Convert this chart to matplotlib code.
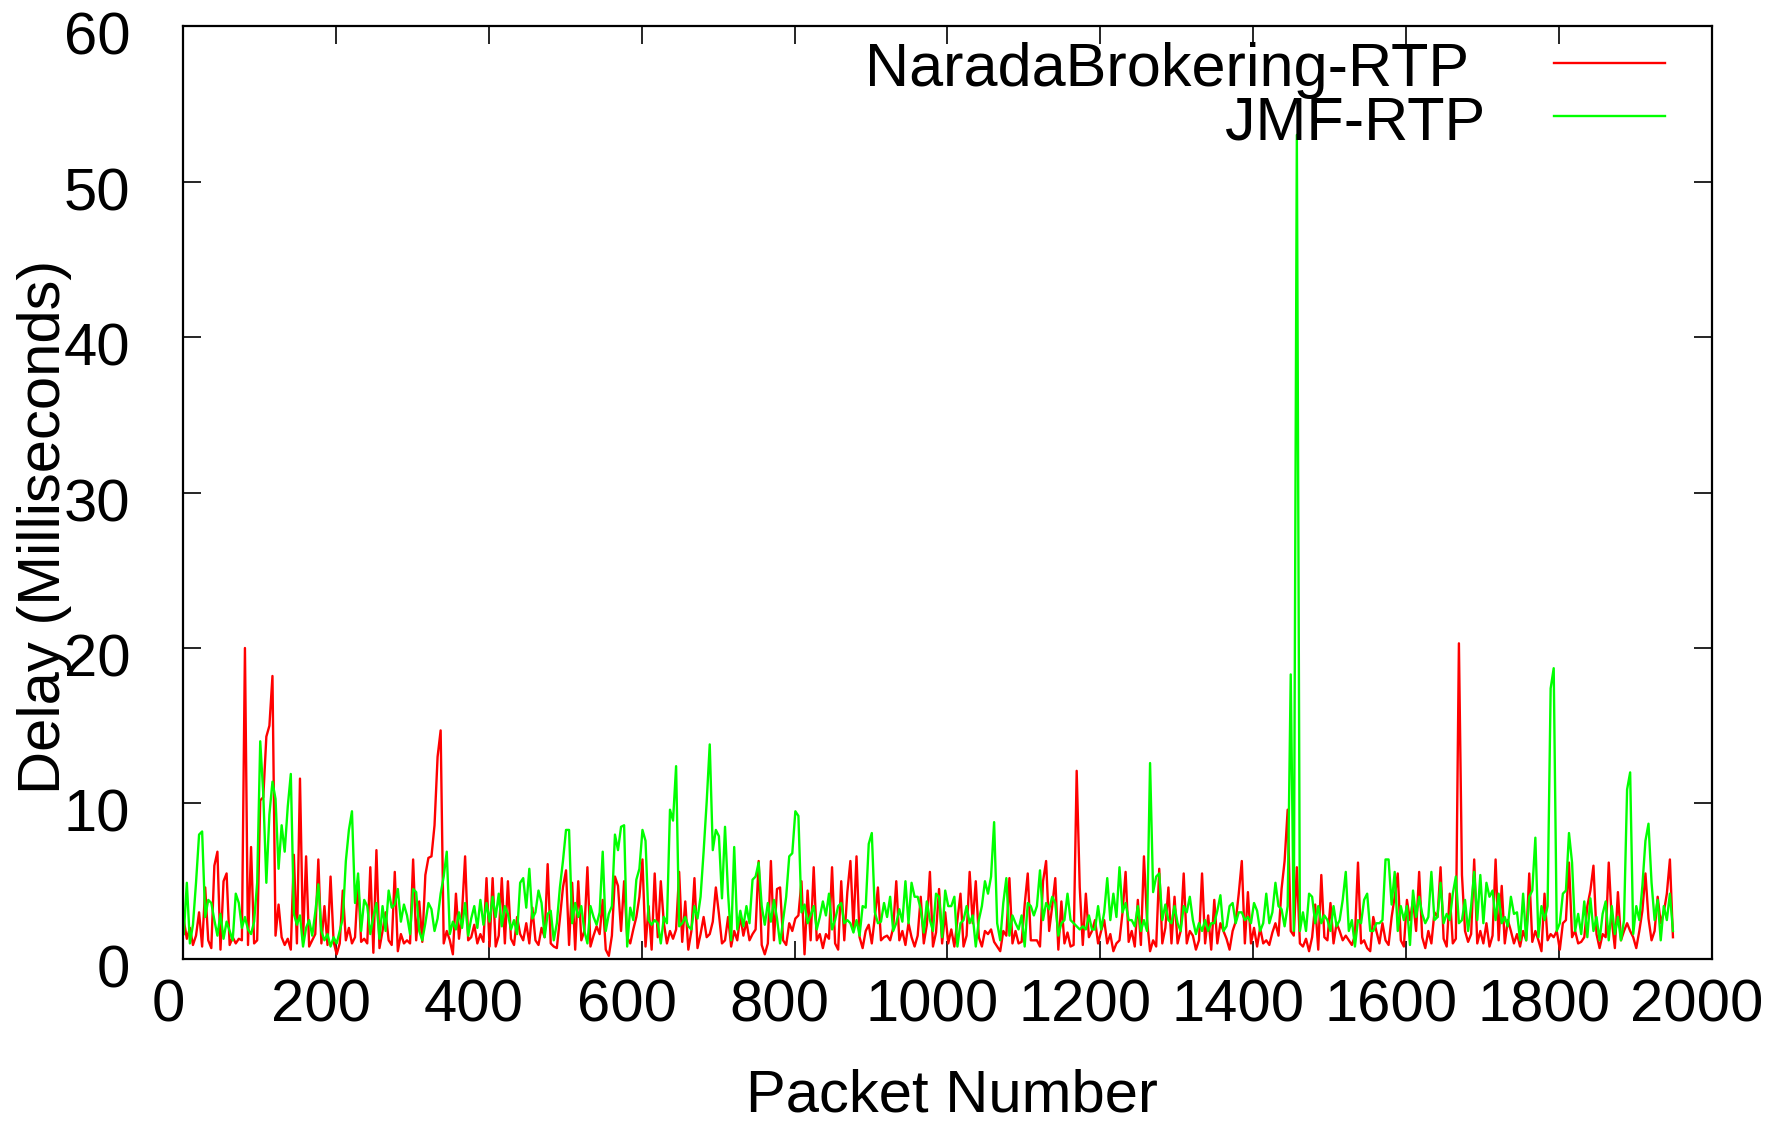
import matplotlib
matplotlib.use("Agg")
import matplotlib.pyplot as plt
import numpy as np
from matplotlib.transforms import ScaledTranslation

plt.rcParams['font.family'] = ['Liberation Sans', 'DejaVu Sans']

# delay (ms), one value every 4 packets starting at packet 1
narada_rtp = [
    # 0 - 250
    2.5, 1.3, 2.0, 0.9, 1.5, 3.0, 0.8, 4.6, 1.2, 0.7, 6.0, 6.9, 0.6, 5.0, 5.5, 0.9,
    1.4, 1.0, 1.3, 1.2, 20.0, 0.9, 7.2, 1.0, 1.2, 10.2, 10.4, 14.3, 15.0, 18.2, 1.5, 3.5,
    1.4, 0.9, 1.3, 0.6, 6.7, 1.0, 11.6, 1.2, 6.6, 0.8, 1.2, 1.6, 6.4, 1.0, 3.4, 0.9,
    5.3, 1.1, 0.3, 1.0, 4.4, 1.2, 2.0, 1.0, 1.4, 5.0, 1.1, 1.3, 1.0, 5.9, 0.4,
    # 250 - 500
    7.0, 0.7, 1.8, 3.0, 1.2, 0.9, 5.6, 0.5, 1.6, 1.0, 1.2, 1.0, 6.4, 1.2, 3.7, 1.1,
    5.4, 6.5, 6.6, 8.6, 13.0, 14.7, 1.0, 1.8, 1.2, 0.3, 4.2, 1.3, 3.0, 6.6, 1.2, 1.4,
    2.2, 1.0, 1.6, 1.1, 5.2, 0.8, 5.2, 0.8, 1.5, 5.2, 1.0, 5.0, 1.3, 0.9, 2.7, 1.6,
    1.2, 2.3, 1.0, 3.3, 1.2, 0.9, 2.0, 1.4, 6.1, 1.0, 0.8, 0.7, 2.6, 4.6,
    # 500 - 750
    5.7, 0.9, 4.9, 0.6, 5.0, 1.2, 1.8, 5.9, 0.8, 1.5, 2.1, 1.6, 3.8, 0.6, 0.2, 1.5,
    5.3, 4.7, 1.8, 5.0, 1.4, 1.0, 1.9, 2.7, 4.0, 6.4, 0.8, 3.4, 0.6, 5.5, 1.4, 5.0,
    2.3, 1.0, 1.8, 1.3, 1.9, 5.6, 1.1, 3.7, 0.6, 1.8, 5.2, 0.7, 1.6, 2.7, 1.4, 1.6,
    2.4, 4.6, 2.9, 1.0, 1.2, 2.7, 0.8, 1.8, 1.2, 2.8, 1.5, 2.4, 1.2, 1.6,
    # 750 - 1000
    1.9, 6.3, 0.9, 0.3, 1.0, 6.3, 1.2, 4.5, 4.6, 1.2, 0.9, 2.3, 1.8, 2.6, 2.8, 5.0,
    0.3, 4.4, 1.2, 5.9, 1.2, 1.6, 0.7, 1.6, 1.3, 5.9, 1.0, 0.6, 5.0, 1.2, 4.3, 6.3,
    2.0, 6.6, 1.4, 0.7, 1.8, 2.2, 1.0, 2.7, 4.6, 1.2, 1.4, 1.5, 1.2, 2.0, 5.0, 1.2,
    1.8, 0.9, 2.3, 1.4, 0.8, 1.5, 4.0, 1.0, 2.2, 5.6, 0.8, 1.7, 4.5, 1.0, 3.0,
    # 1000 - 1250
    1.0, 1.9, 0.8, 2.5, 4.2, 0.8, 1.5, 5.6, 2.3, 5.0, 1.4, 0.8, 1.8, 1.6, 1.9, 1.1,
    0.8, 0.5, 1.8, 1.5, 5.2, 1.0, 1.8, 1.0, 1.1, 3.5, 5.5, 1.2, 1.2, 1.2, 0.8, 5.0,
    6.3, 1.8, 3.4, 5.2, 0.6, 3.7, 1.0, 1.7, 0.8, 0.9, 12.1, 4.6, 0.9, 4.2, 1.4, 1.8,
    2.5, 1.0, 1.8, 2.5, 1.0, 1.6, 0.5, 1.0, 1.2, 3.0, 5.6, 1.1, 1.8, 0.8,
    # 1250 - 1500
    3.8, 0.9, 6.6, 2.5, 0.5, 1.2, 0.8, 5.8, 1.0, 2.0, 4.6, 1.0, 4.0, 1.0, 1.8, 5.5,
    1.0, 1.8, 1.5, 0.6, 1.2, 5.5, 1.0, 2.8, 0.6, 3.8, 1.0, 2.3, 1.8, 1.3, 0.6, 1.8,
    2.4, 4.2, 6.3, 1.0, 4.3, 1.0, 2.0, 0.8, 2.0, 1.0, 1.2, 0.9, 1.7, 2.3, 1.5, 4.5,
    6.3, 9.6, 1.8, 1.5, 5.9, 1.0, 0.8, 1.3, 0.5, 1.4, 3.5, 0.6, 5.4, 1.4,
    # 1500 - 1750
    1.2, 3.6, 1.0, 2.3, 1.8, 1.2, 1.5, 1.2, 0.9, 1.5, 6.2, 1.0, 1.2, 0.7, 0.5, 2.7,
    1.8, 1.0, 2.3, 1.2, 0.9, 2.7, 4.0, 5.5, 1.2, 0.8, 3.8, 2.5, 3.8, 1.8, 5.6, 1.4,
    0.7, 1.8, 1.0, 3.0, 2.7, 5.9, 1.3, 0.8, 4.2, 1.0, 1.3, 20.3, 5.4, 1.8, 1.1, 1.6,
    6.4, 1.0, 1.8, 1.0, 2.3, 0.8, 1.5, 6.4, 1.2, 4.7, 1.0, 2.5, 1.8, 1.0,
    # 1750 - 1950
    1.6, 0.8, 1.8, 1.2, 5.5, 1.1, 1.8, 1.2, 0.5, 4.2, 1.2, 1.6, 1.4, 1.8, 0.6, 2.3,
    2.5, 6.2, 1.4, 1.8, 1.0, 1.1, 1.4, 3.4, 4.4, 6.0, 1.6, 0.7, 1.6, 1.4, 6.2, 2.5,
    0.7, 4.3, 1.2, 1.8, 2.3, 1.8, 1.4, 0.7, 1.8, 3.1, 5.5, 2.6, 1.2, 1.8, 4.0, 2.3,
    3.0, 4.2, 6.4, 1.4,
]

jmf_rtp = [
    # 0 - 250
    1.6, 4.9, 1.0, 2.2, 4.9, 8.0, 8.2, 2.7, 3.8, 3.6, 2.5, 1.5, 2.9, 1.3, 2.4, 1.8,
    1.2, 4.2, 3.6, 2.0, 2.7, 1.9, 1.6, 2.4, 4.9, 14.0, 10.6, 4.9, 9.3, 11.4, 10.3, 5.8,
    8.6, 6.9, 9.8, 11.9, 2.9, 2.2, 2.8, 0.8, 2.0, 2.5, 1.5, 3.0, 4.8, 1.8, 1.2, 1.6,
    0.8, 1.4, 1.0, 1.8, 2.6, 6.3, 8.3, 9.5, 3.6, 5.5, 1.8, 3.8, 3.4, 1.6, 2.7,
    # 250 - 500
    3.6, 1.3, 3.4, 1.8, 4.4, 3.3, 3.5, 4.5, 2.4, 3.5, 2.8, 1.6, 4.5, 4.3, 1.8, 1.2,
    2.3, 3.6, 3.2, 1.8, 2.6, 4.2, 5.3, 6.9, 1.6, 2.4, 1.9, 3.0, 2.0, 3.6, 1.5, 2.6,
    3.4, 2.0, 3.8, 2.2, 3.6, 2.4, 4.0, 2.7, 4.2, 2.1, 3.4, 2.9, 1.9, 2.5, 1.6, 4.9,
    5.2, 3.3, 5.8, 2.6, 3.0, 4.4, 3.6, 1.4, 2.9, 3.1, 1.2, 2.3, 4.6, 6.3,
    # 500 - 750
    8.3, 8.3, 2.3, 3.6, 2.7, 3.4, 1.8, 1.0, 3.4, 2.7, 2.2, 3.0, 6.9, 1.8, 2.9, 3.4,
    8.0, 7.0, 8.5, 8.6, 0.8, 3.3, 2.5, 5.1, 5.8, 8.3, 7.6, 2.5, 2.2, 2.5, 2.3, 1.0,
    2.7, 2.3, 9.6, 8.9, 12.4, 2.1, 2.3, 2.7, 2.1, 1.9, 3.4, 2.6, 4.0, 6.9, 10.1, 13.8,
    7.0, 8.3, 7.9, 3.9, 8.5, 4.2, 1.2, 7.2, 1.9, 3.1, 2.1, 3.4, 2.3, 5.1,
    # 750 - 1000
    5.3, 6.2, 3.4, 2.2, 3.6, 2.4, 3.8, 2.6, 1.0, 2.5, 4.0, 6.6, 6.8, 9.5, 9.2, 3.0,
    3.5, 2.3, 2.8, 3.4, 1.9, 2.7, 3.7, 2.8, 4.2, 1.9, 2.5, 3.4, 3.6, 2.3, 2.5, 2.3,
    1.7, 2.5, 1.5, 3.4, 3.3, 7.4, 8.1, 3.0, 2.3, 2.4, 3.6, 2.7, 4.0, 1.8, 2.3, 3.2,
    2.4, 5.0, 2.3, 4.9, 4.0, 4.0, 3.2, 1.7, 3.7, 2.5, 1.8, 4.2, 4.0, 1.4, 4.4,
    # 1000 - 1250
    3.4, 3.4, 4.0, 0.8, 2.3, 2.5, 3.4, 2.3, 2.8, 0.8, 2.5, 3.4, 5.0, 4.2, 5.3, 8.8,
    2.3, 1.2, 3.6, 5.2, 1.5, 2.8, 2.3, 1.9, 2.8, 0.8, 3.6, 3.4, 2.8, 3.4, 5.7, 2.5,
    3.6, 3.2, 4.0, 3.6, 1.5, 2.3, 2.5, 4.2, 2.5, 2.3, 2.1, 1.9, 2.1, 1.9, 2.8, 1.9,
    1.9, 3.4, 1.9, 3.0, 5.2, 2.5, 4.2, 2.7, 5.9, 3.0, 3.6, 2.5, 2.5, 2.1,
    # 1250 - 1500
    3.4, 1.8, 2.5, 1.8, 12.6, 4.3, 5.3, 5.5, 2.5, 3.5, 2.5, 2.3, 3.4, 2.3, 1.8, 3.4,
    3.0, 4.0, 2.5, 1.6, 2.3, 1.8, 2.5, 1.8, 2.3, 2.3, 3.1, 4.1, 1.8, 2.1, 3.4, 3.6,
    2.3, 3.0, 3.0, 2.5, 2.7, 2.3, 3.6, 3.1, 1.8, 2.3, 4.2, 2.3, 3.0, 4.9, 3.4, 3.2,
    2.1, 3.4, 18.3, 1.8, 53.0, 1.8, 3.0, 1.8, 4.2, 4.0, 2.3, 3.4, 2.3, 2.8,
    # 1500 - 1750
    2.5, 1.8, 3.4, 2.1, 2.5, 3.8, 5.6, 1.8, 2.5, 0.8, 2.5, 2.3, 3.8, 4.2, 1.8, 1.8,
    2.3, 2.3, 2.5, 6.4, 6.4, 3.5, 5.6, 1.8, 3.4, 2.5, 3.4, 0.9, 4.4, 2.7, 4.0, 2.9,
    2.3, 2.7, 5.6, 2.5, 2.7, 4.9, 2.3, 2.9, 2.5, 4.2, 5.3, 2.3, 2.5, 3.8, 1.8, 3.4,
    5.6, 2.5, 5.4, 2.3, 4.9, 4.0, 4.4, 2.5, 4.2, 2.3, 2.7, 2.1, 4.0, 2.9,
    # 1750 - 1950
    3.0, 1.2, 4.2, 1.2, 4.0, 4.4, 7.8, 1.4, 3.4, 2.5, 3.4, 17.4, 18.7, 1.8, 2.3, 4.2,
    4.4, 8.1, 6.2, 1.8, 2.9, 1.6, 3.7, 1.4, 3.9, 1.8, 2.7, 1.2, 2.9, 3.7, 1.2, 3.4,
    1.6, 2.7, 1.2, 2.5, 10.9, 12.0, 1.6, 3.4, 2.5, 4.7, 7.6, 8.7, 4.9, 2.5, 3.8, 1.2,
    3.4, 2.5, 4.2, 1.8,
]

n = min(len(narada_rtp), len(jmf_rtp))
packets = 1 + 4 * np.arange(n)

fig = plt.figure(figsize=(17.7, 11.22), dpi=100)
ax = fig.add_axes([0.1034, 0.1453, 0.8638, 0.8315])

ax.plot(packets, narada_rtp[:n], color='#ff0000', lw=1.7)
ax.plot(packets, jmf_rtp[:n], color='#00ff00', lw=1.7)

ax.set_xlim(0, 2000)
ax.set_ylim(0, 60)
ax.set_xticks(np.arange(0, 2001, 200))
ax.set_yticks(np.arange(0, 61, 10))
ax.tick_params(direction='in', length=13, width=1.2, labelsize=43,
               top=True, right=True, pad=14)
ax.tick_params(axis='y', pad=38)
for s in ax.spines.values():
    s.set_linewidth(1.6)

# gnuplot-like label offsets
for lab in ax.get_xticklabels():
    lab.set_transform(lab.get_transform() + ScaledTranslation(-0.15, 0, fig.dpi_scale_trans))
for lab in ax.get_yticklabels():
    lab.set_transform(lab.get_transform() + ScaledTranslation(0, -0.07, fig.dpi_scale_trans))

fig.text(0.538, 0.009, 'Packet Number', ha='center', va='baseline', fontsize=43)
fig.text(0.025, 0.53, 'Delay (Milliseconds)', ha='center', va='center',
         rotation=90, fontsize=43)

# key, top right
key_rows = [('NaradaBrokering-RTP', '#ff0000', 0.9603, 0.8415),
            ('JMF-RTP', '#00ff00', 0.9035, 0.8520)]
for label, col, yy, tx in key_rows:
    ax.plot([0.897, 0.969], [yy, yy], color=col, lw=1.7, transform=ax.transAxes,
            clip_on=False)
    ax.text(tx, yy - 0.008, label, transform=ax.transAxes, ha='right',
            va='center', fontsize=44)

fig.savefig('out.png', dpi=100)
